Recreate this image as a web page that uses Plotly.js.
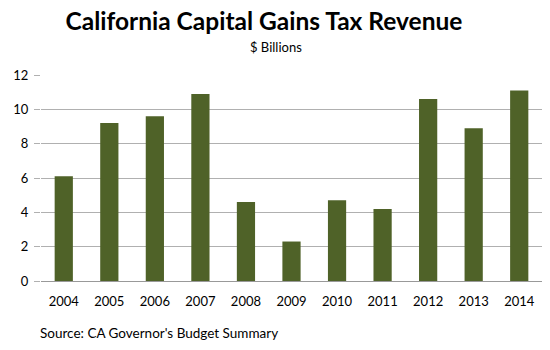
<!DOCTYPE html>
<html>
<head>
<meta charset="utf-8">
<script src="https://cdn.plot.ly/plotly-3.0.1.min.js"></script>
<style>html,body{margin:0;padding:0;background:#fff;}#chart{width:550px;height:350px;}</style>
</head>
<body>
<div id="chart"></div>
<script>
const years = ["2004","2005","2006","2007","2008","2009","2010","2011","2012","2013","2014"];
const revenue = [6.1, 9.2, 9.6, 10.9, 4.6, 2.3, 4.7, 4.2, 10.6, 8.9, 11.1];
const titleText = "California Capital Gains Tax Revenue";
const subtitleText = "$ Billions";
const sourceText = "Source: CA Governor's Budget Summary";
const yTicks = [0, 2, 4, 6, 8, 10, 12];

const font = "Lato, 'Open Sans', sans-serif";

Plotly.newPlot("chart", [{
  type: "bar",
  x: years,
  y: revenue,
  marker: {color: "#4f6228"},
  hoverinfo: "x+y"
}], {
  width: 550, height: 350,
  margin: {l: 41, r: 8, t: 75, b: 69},
  paper_bgcolor: "#fff", plot_bgcolor: "#fff",
  bargap: 0.6,
  showlegend: false,
  font: {family: font, color: "#000", size: 12},
  title: {text: "<b>" + titleText + "</b>", font: {family: font, size: 24.5, color: "#000"},
          x: 0.48, xanchor: "center", xref: "container", y: 0.94, yanchor: "middle", yref: "container"},
  xaxis: {type: "category", showgrid: false, zeroline: false, showline: true, linecolor: "#999", linewidth: 1,
          ticks: "", ticklabelstandoff: 8, tickfont: {family: font, size: 13, color: "#000"}, fixedrange: true},
  yaxis: {range: [0, 12], tickvals: yTicks, showgrid: true, gridcolor: "#b0b0b0", gridwidth: 1,
          zeroline: false, showline: false, ticks: "outside", ticklen: 6, tickcolor: "#b0b0b0",
          ticklabelstandoff: 3, tickfont: {family: font, size: 13, color: "#000"}, fixedrange: true},
  annotations: [
    {text: subtitleText, xref: "paper", yref: "paper", x: (276-41)/501, y: 1 + (75-47)/206,
     xanchor: "center", yanchor: "middle", showarrow: false, font: {family: font, size: 13, color: "#000"}},
    {text: sourceText, xref: "paper", yref: "paper", x: (38-41)/501, y: -(333-281)/206,
     xanchor: "left", yanchor: "middle", showarrow: false, font: {family: font, size: 13.5, color: "#000"}}
  ]
}, {displayModeBar: false, staticPlot: true});
</script>
</body>
</html>
